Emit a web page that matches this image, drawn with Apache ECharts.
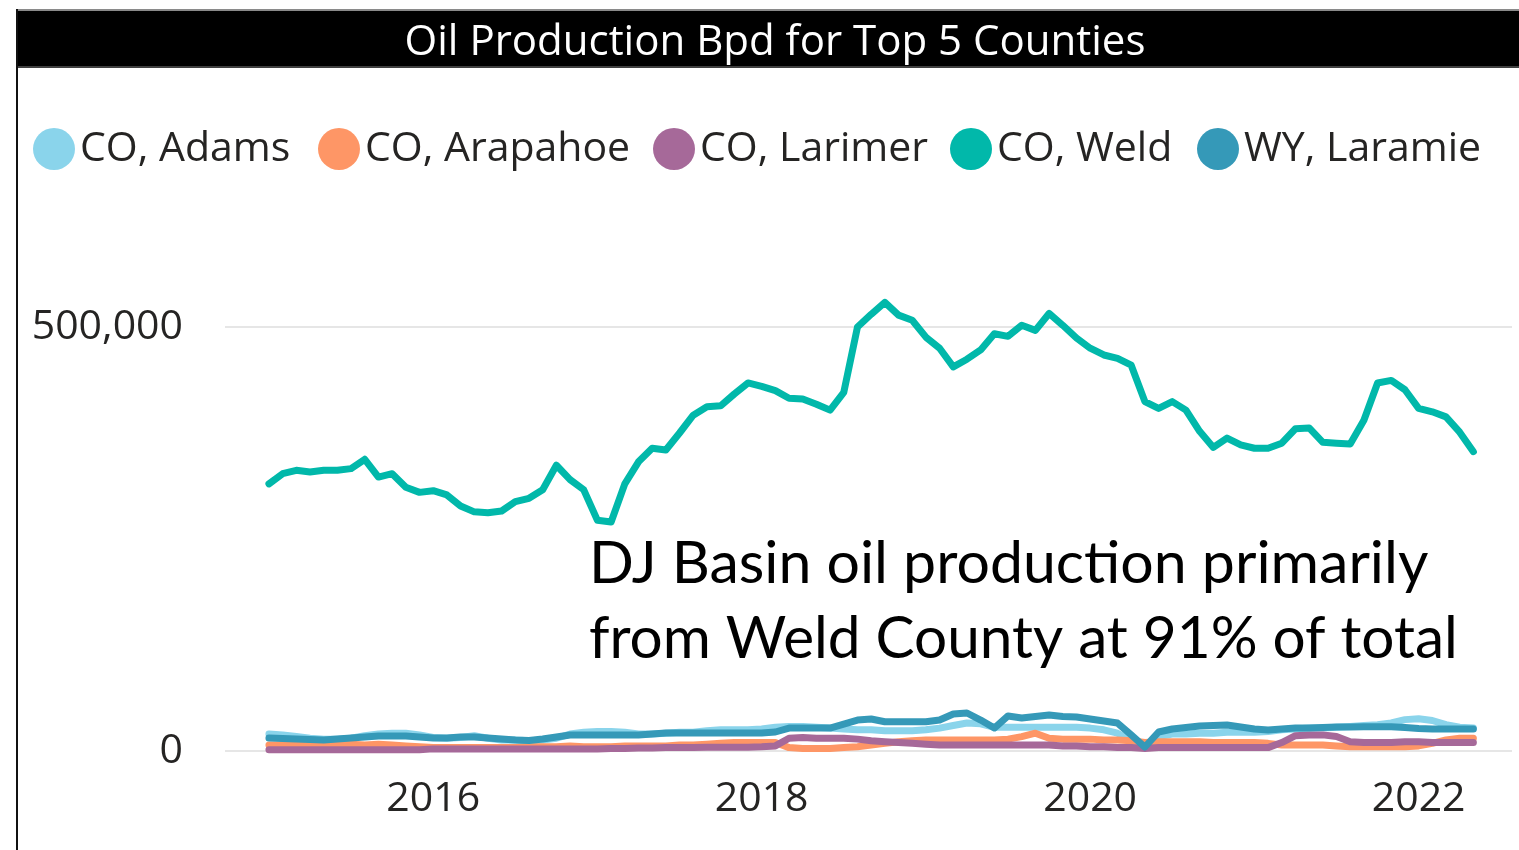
<!DOCTYPE html>
<html>
<head>
<meta charset="utf-8">
<script src="https://cdn.jsdelivr.net/npm/echarts@6/dist/echarts.min.js"></script>
<style>
html,body{margin:0;padding:0;background:#fff;}
#chart{width:1519px;height:850px;}
</style>
</head>
<body>
<div id="chart"></div>
<script>
// ---------- DATA ----------
const chartTitle = 'Oil Production Bpd for Top 5 Counties';
const seriesNames = ['CO, Adams', 'CO, Arapahoe', 'CO, Larimer', 'CO, Weld', 'WY, Laramie'];
const months = [
  '2015-01','2015-02','2015-03','2015-04','2015-05','2015-06','2015-07','2015-08','2015-09','2015-10','2015-11','2015-12',
  '2016-01','2016-02','2016-03','2016-04','2016-05','2016-06','2016-07','2016-08','2016-09','2016-10','2016-11','2016-12',
  '2017-01','2017-02','2017-03','2017-04','2017-05','2017-06','2017-07','2017-08','2017-09','2017-10','2017-11','2017-12',
  '2018-01','2018-02','2018-03','2018-04','2018-05','2018-06','2018-07','2018-08','2018-09','2018-10','2018-11','2018-12',
  '2019-01','2019-02','2019-03','2019-04','2019-05','2019-06','2019-07','2019-08','2019-09','2019-10','2019-11','2019-12',
  '2020-01','2020-02','2020-03','2020-04','2020-05','2020-06','2020-07','2020-08','2020-09','2020-10','2020-11','2020-12',
  '2021-01','2021-02','2021-03','2021-04','2021-05','2021-06','2021-07','2021-08','2021-09','2021-10','2021-11','2021-12',
  '2022-01','2022-02','2022-03','2022-04','2022-05'
];
const adams = [
  20000,19000,17000,15000,14000,14000,15000,18000,20000,21000,21000,19000,
  16000,15000,16000,18000,15000,13000,13000,12000,13000,15000,20000,22000,
  23000,23000,22000,20000,20000,21000,22000,22000,24000,25000,25000,25000,
  26000,28000,29000,29000,28000,27000,26000,25000,25000,24000,24000,24000,
  25000,27000,30000,33000,32000,28000,28000,28000,28000,28000,28000,28000,
  27000,25000,21000,12000,6000,17000,20000,20000,21000,21000,22000,22000,
  22000,23000,25000,26000,27000,27000,28000,29000,30000,31000,33000,37000,
  38000,36000,31000,28000,27000
];
const arapahoe = [
  7000,7000,8000,7000,7000,8000,8000,7000,8000,7000,6000,5000,
  4000,4000,4000,4000,4000,4000,4000,5000,5000,5000,6000,5000,
  5000,5000,6000,6000,6000,6000,7000,7000,8000,9000,10000,10000,
  10000,10000,4000,3000,3000,3000,4000,5000,7000,9000,11000,12000,
  13000,13000,13000,13000,13000,13000,14000,17000,21000,15000,14000,14000,
  14000,13000,13000,12000,10000,11000,11000,11000,11000,10000,10000,10000,
  10000,9000,7000,7000,7000,7000,6000,5000,5000,5000,5000,5000,
  6000,9000,13000,15000,15000
];
const larimer = [
  1500,1500,1500,1500,1500,1500,1500,1500,1500,1500,1500,1500,
  2500,2500,2500,2500,2500,2500,2500,2500,2500,2500,2500,2500,
  2500,3000,3000,3500,3500,4000,4000,4000,4500,4500,4500,4500,
  5000,6000,15000,16000,15000,15000,15000,14000,12000,11000,10000,9000,
  8000,7000,7000,7000,7000,7000,7000,7000,7000,7000,6000,6000,
  5000,5000,4000,4000,3000,4000,4000,4000,4000,4000,4000,4000,
  4000,4000,10000,18000,19000,19000,17000,11000,10000,10000,10000,11000,
  11000,10000,10000,10000,10000
];
const weld = [
  315000,327000,331000,329000,331000,331000,333000,344000,323000,327000,311000,305000,
  307000,302000,289000,282000,281000,283000,294000,298000,308000,337000,320000,308000,
  272000,270000,315000,341000,357000,355000,375000,396000,406000,407000,421000,434000,
  430000,425000,416000,415000,409000,402000,423000,500000,515000,529000,514000,508000,
  488000,475000,453000,462000,473000,492000,489000,502000,496000,516000,502000,487000,
  475000,467000,463000,455000,412000,404000,412000,402000,377000,358000,369000,361000,
  357000,357000,363000,380000,381000,364000,363000,362000,390000,434000,437000,426000,
  404000,400000,394000,376000,353000
];
const laramie = [
  15300,14700,14100,13600,13000,14100,15300,16500,17700,17700,17700,16500,
  15300,15300,16500,16500,15300,14100,13000,12400,14100,16500,18900,18900,
  18900,18900,18900,18900,20000,21200,21200,21200,21200,21200,21200,21200,
  21200,22400,27100,27100,27100,27100,31800,36500,37700,34500,34500,34500,
  34500,36500,43600,44800,36500,27100,41300,38900,40700,42400,40700,40100,
  37700,35400,33000,18900,4700,22400,25900,27700,29500,30100,30700,28300,
  25900,24800,25900,27100,27100,27700,28300,28300,28700,28700,28700,27700,
  26500,25900,25900,25900,25900
];
const xTickLabels = ['2016', '2018', '2020', '2022'];
const xRange = ['2014-09-25', '2022-07-26'];
const yTickValues = [0, 500000];
const annotationLines = ['DJ Basin oil production primarily', 'from Weld County at 91% of total'];
const colors = ['#8AD4EB', '#FE9666', '#A66999', '#01B8AA', '#3599B8'];

// ---------- BUILD ----------
// date string -> fractional year (for a linear time-like axis)
function toYear(s) {
  const p = s.split('-').map(Number);
  const d = p[2] || 1;
  return p[0] + (p[1] - 1) / 12 + (d - 1) / 365;
}
const allValues = [adams, arapahoe, larimer, weld, laramie];
const uiFont = 'Open Sans';
const legendLefts = [33, 318, 653, 950, 1197];

const chart = echarts.init(document.getElementById('chart'), null, {renderer: 'canvas'});
const option = {
  animation: false,
  color: colors,
  grid: {left: 225, right: 7, top: 327, bottom: 99, outerBoundsMode: 'none'},
  legend: seriesNames.map((n, i) => ({
    data: [n], left: legendLefts[i], top: 128, icon: 'circle', itemWidth: 42, itemHeight: 42,
    padding: 0, itemGap: 0, selectedMode: false,
    textStyle: {fontSize: 41, fontFamily: uiFont, color: '#252423'}
  })),
  xAxis: {
    type: 'value',
    min: toYear(xRange[0]),
    max: toYear(xRange[1]),
    axisLine: {show: false},
    axisTick: {show: false},
    splitLine: {show: false},
    axisLabel: {
      customValues: xTickLabels.map(Number),
      formatter: v => String(Math.round(v)),
      fontSize: 41, fontFamily: uiFont, color: '#252423', margin: 28
    }
  },
  yAxis: {
    type: 'value', min: yTickValues[0], max: yTickValues[1], interval: yTickValues[1],
    axisLine: {show: false}, axisTick: {show: false},
    splitLine: {show: true, lineStyle: {color: '#e6e6e6', width: 2}},
    axisLabel: {fontSize: 41, fontFamily: uiFont, color: '#252423', margin: 42}
  },
  series: seriesNames.map((n, i) => ({
    name: n, type: 'line', showSymbol: false, symbol: 'none', clip: false,
    lineStyle: {width: 7, color: colors[i], cap: 'round', join: 'round'},
    data: months.map((m, k) => [toYear(m), allValues[i][k]])
  })),
  graphic: [
    {type: 'rect', shape: {x: 17, y: 10, width: 1502, height: 58}, style: {fill: '#000'}},
    {type: 'rect', shape: {x: 17, y: 9, width: 1502, height: 2}, style: {fill: '#8a8a8a'}},
    {type: 'rect', shape: {x: 17, y: 66, width: 1502, height: 2}, style: {fill: '#404040'}},
    {type: 'rect', shape: {x: 16, y: 9, width: 2, height: 841}, style: {fill: '#111'}},
    {type: 'text', x: 775, y: 43, style: {text: chartTitle, fill: '#fff', font: '42px "Open Sans"', align: 'center', verticalAlign: 'middle'}},
    {type: 'text', x: 589, y: 564, style: {text: annotationLines[0], fill: '#000', font: '59px Lato', align: 'left', verticalAlign: 'middle'}},
    {type: 'text', x: 589, y: 639, style: {text: annotationLines[1], fill: '#000', font: '58.5px Lato', align: 'left', verticalAlign: 'middle'}}
  ]
};
chart.setOption(option);
</script>
</body>
</html>
